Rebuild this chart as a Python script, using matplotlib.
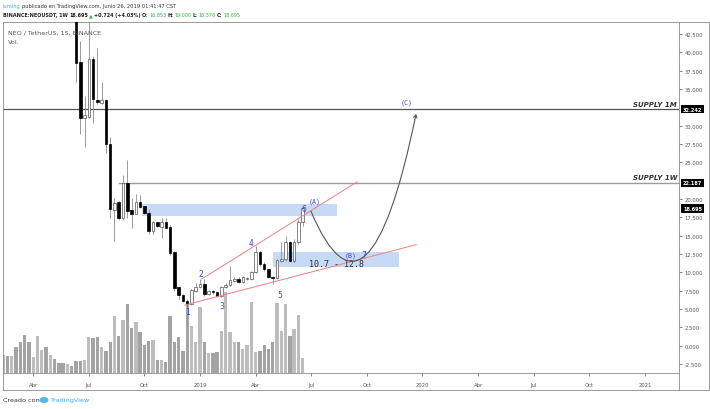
import matplotlib.pyplot as plt
import matplotlib.patches as mpatches
from matplotlib.path import Path
from matplotlib.lines import Line2D
import matplotlib.transforms as mtransforms
import numpy as np
import pandas as pd

# weekly NEO/USDT candles, Binance
start = pd.Timestamp('2018-02-12')
weeks = pd.date_range(start, periods=71, freq='W-MON')
opens = [104, 121, 112, 112, 95, 72, 63, 53, 58, 65, 80, 76, 80, 65, 58, 50, 52, 50, 38.6, 31.1,
         31.2, 39.0, 33.5, 33.1, 33.5, 27.45, 18.45, 19.5, 17.45, 22.1, 18.4, 17.9, 19.5, 19.0, 18.1,
         15.6, 16.8, 16.2, 16.8, 16.1, 12.7, 7.95, 6.9, 6.1, 5.7, 7.5, 7.95, 8.4, 7.05, 7.37, 7.3,
         6.82, 7.95, 8.27, 8.86, 9.1, 8.7, 9.1, 9.1, 10.0, 12.73, 11.14, 10.46, 9.32, 9.18, 11.59,
         11.82, 14.1, 11.59, 14.1, 16.853]
highs = [130, 140, 120, 135, 100, 78, 65, 60, 70, 85, 90, 85, 82, 68, 60, 55, 60, 52, 41.5, 34.0,
         44.5, 39.5, 40.6, 35.9, 33.6, 28.4, 20.2, 19.7, 23.3, 25.3, 20.2, 20.7, 20.6, 19.1, 18.6,
         17.0, 16.9, 17.45, 17.45, 16.5, 12.9, 8.2, 7.0, 6.3, 7.7, 8.6, 9.1, 9.1, 7.6, 7.6, 7.4,
         8.1, 8.5, 10.8, 9.4, 9.3, 9.55, 9.4, 10.23, 13.64, 12.96, 11.36, 10.46, 9.55, 11.82, 14.1,
         15.0, 14.32, 14.55, 17.3, 19.0]
lows = [100, 110, 100, 92, 68, 58, 50, 47, 53, 63, 72, 70, 63, 56, 48, 46, 48, 35.9, 28.8, 27.1,
        31.0, 30.4, 32.9, 32.9, 26.3, 17.45, 14.3, 17.2, 17.2, 17.45, 16.1, 17.9, 18.8, 18.0, 15.2,
        15.2, 16.2, 14.7, 16.0, 12.3, 7.5, 6.4, 5.9, 5.3, 5.6, 7.3, 7.8, 6.8, 6.9, 7.1, 6.6,
        6.6, 7.9, 8.2, 8.7, 8.5, 8.6, 8.9, 9.0, 9.9, 10.9, 10.2, 9.2, 8.4, 9.1, 11.4, 11.6, 11.4,
        11.36, 13.9, 16.376]
closes = [121, 112, 112, 95, 72, 63, 53, 58, 65, 80, 76, 80, 65, 58, 50, 52, 50, 38.6, 31.1, 31.4,
          39.0, 33.6, 33.2, 33.4, 27.45, 18.6, 19.4, 17.45, 22.1, 18.4, 17.9, 19.5, 18.9, 18.1, 15.6,
          16.8, 16.3, 16.8, 16.1, 12.6, 7.8, 6.9, 6.1, 5.7, 7.5, 7.95, 8.4, 7.05, 7.37, 7.3, 6.82,
          7.95, 8.27, 8.86, 9.1, 8.7, 9.28, 9.18, 10.0, 12.73, 11.14, 10.46, 9.32, 9.18, 11.59, 11.82,
          14.1, 11.59, 14.1, 16.8, 18.695]
volumes = [18, 17.3, 17.3, 26.3, 30.7, 38, 31.3, 15.7, 36.7, 23, 26.3, 18, 14, 10, 10, 9, 6.7,
           12.3, 12, 13.3, 36.3, 34.7, 35.7, 25.7, 22.3, 30.7, 57.3, 37.3, 53, 69, 45, 50.7, 41.3,
           28, 32.3, 33, 13, 13, 10.7, 57.3, 30.7, 35.7, 22.3, 68, 47.3, 31.3, 65.7, 30.7, 19.7,
           19.7, 20.7, 42.3, 80.7, 41.3, 31.3, 31.3, 24, 28.3, 71.3, 20.7, 22.3, 28, 24, 31.3, 69.7,
           42.3, 69, 37.3, 44, 58, 14.7]

tick_dates = ['2018-04-02', '2018-07-02', '2018-10-01', '2018-12-31', '2019-04-01', '2019-07-01',
              '2019-09-30', '2019-12-30', '2020-03-30', '2020-06-29', '2020-09-28', '2020-12-28']
tick_labels = ['Abr', 'Jul', 'Oct', '2019', 'Abr', 'Jul', 'Oct', '2020', 'Abr', 'Jul', 'Oct', '2021']

supply_1m = 32.242
supply_1w = 22.187
last_price = 18.695
zone_a = (17.7, 19.3)
zone_b = (10.7, 12.8)

W, H = 710, 410
fig = plt.figure(figsize=(7.1, 4.1), dpi=100)
plt.rcParams['font.family'] = ['DejaVu Sans']
L, R, T, B = 3, 679, 23, 374
rect = [L / W, (H - B) / H, (R - L) / W, (B - T) / H]

axv = fig.add_axes(rect)
ax = fig.add_axes(rect, sharex=axv)
ax.patch.set_alpha(0)
axv.set_zorder(0)
ax.set_zorder(1)

x = np.arange(len(weeks))
o = np.array(opens); c = np.array(closes)
up = c >= o

# volume
axv.bar(x, volumes, width=0.78, color=np.where(up, '#bdbdbd', '#a3a3a3'), linewidth=0)
axv.set_ylim(0, B - T)
axv.axis('off')

# candles
ax.vlines(x, lows, highs, color='#8a8a8a', lw=0.6, zorder=2)
ax.bar(x, np.abs(c - o) + 0.05, bottom=np.minimum(o, c), width=0.6,
       color=np.where(up, 'white', 'black'), edgecolor=np.where(up, '#555555', 'black'),
       linewidth=0.5, zorder=3)

ax.set_xlim(-0.06, 157.96)
ax.set_ylim(-3.73, 44.14)

# horizontal levels
ax.axhline(supply_1m, color='#555555', lw=0.9, zorder=1)
ax.plot([27, 158], [supply_1w, supply_1w], color='#9a9a9a', lw=1.0, zorder=1)
ax.text(157.5, supply_1m + 0.35, 'SUPPLY 1M', ha='right', va='bottom', fontsize=5,
        fontweight='bold', style='italic', color='#333333')
ax.text(157.5, supply_1w + 0.35, 'SUPPLY 1W', ha='right', va='bottom', fontsize=5,
        fontweight='bold', style='italic', color='#333333')

# zones
ax.add_patch(mpatches.Rectangle((32.4, zone_a[0]), 77.9 - 32.4, zone_a[1] - zone_a[0],
                                facecolor='#c6d9f5', edgecolor='none', zorder=1))
ax.add_patch(mpatches.Rectangle((63.1, zone_b[0]), 92.6 - 63.1, zone_b[1] - zone_b[0],
                                facecolor='#c6d9f5', edgecolor='none', zorder=1))
ax.text(77.8, 11.27, '10.7 - 12.8', ha='center', va='center', fontsize=6,
        family='DejaVu Sans Mono', color='#333333', zorder=5)

# wedge lines
ax.plot([46.4, 82.76], [9.09, 22.36], color='#f08080', lw=0.7, zorder=4)
ax.plot([42.5, 96.5], [5.54, 13.77], color='#f08080', lw=0.7, zorder=4)

# projected path
curve = Path([(71.9, 18.36), (85.3, -0.2), (96.5, 31.6)],
             [Path.MOVETO, Path.CURVE3, Path.CURVE3])
ax.add_patch(mpatches.FancyArrowPatch(path=curve, arrowstyle='->,head_length=2,head_width=1.2',
                                      color='#555555', lw=0.8, zorder=5))

blue = '#3f3ff0'
for s, xi, yi in [('1', 43.0, 4.6), ('2', 46.2, 9.9), ('3', 51.0, 5.5), ('4', 57.9, 14.1),
                  ('5', 64.7, 7.0), ('6', 70.3, 18.7), ('7', 84.3, 12.4)]:
    ax.text(xi, yi, s, ha='center', va='center', fontsize=5.5, color=blue, zorder=6)
for s, xi, yi in [('(A)', 72.9, 19.75), ('(B)', 81.3, 12.4), ('(C)', 94.4, 33.2)]:
    ax.text(xi, yi, s, ha='center', va='center', fontsize=4.8, family='DejaVu Sans Mono',
            color=blue, zorder=6)

# axes styling
ticks = [(pd.Timestamp(d) - start).days / 7 for d in tick_dates]
ax.set_xticks(ticks)
ax.set_xticklabels(tick_labels)
yt = [v for v in np.arange(-2.5, 43, 2.5) if v not in (22.5, 32.5)]
ax.set_yticks(yt)
ax.set_yticklabels(['%.3f' % v for v in yt])
ax.yaxis.tick_right()
ax.tick_params(axis='both', labelsize=3.8, colors='#555555', length=2.5, width=0.5, pad=1.5)
ax.tick_params(axis='x', pad=4)
for sp in ax.spines.values():
    sp.set_color('#8a8a8a')
    sp.set_linewidth(0.6)

# price tags
tr = mtransforms.blended_transform_factory(ax.transAxes, ax.transData)
for p in (supply_1m, supply_1w, last_price):
    ax.text(1.006, p, '%.3f' % p, transform=tr, ha='left', va='center', fontsize=3.6,
            fontweight='bold', color='white',
            bbox=dict(boxstyle='square,pad=0.35', facecolor='black', edgecolor='none'), zorder=7)

# outer frame
def fline(x0, y0, x1, y1):
    fig.add_artist(Line2D([x0 / W, x1 / W], [1 - y0 / H, 1 - y1 / H], color='#8a8a8a', lw=0.6))

fline(R, T, 709, T)
fline(709, T, 709, 391)
fline(L, 391, 709, 391)
fline(L, B, L, 391)
fline(R, B, R, 391)

# header, laid out piece by piece
renderer = fig.canvas.get_renderer()

def text_row(x0, ypx, pieces, size):
    xp = x0
    for s, col, bold in pieces:
        t = fig.text(xp / W, 1 - ypx / H, s, fontsize=size, color=col, va='center',
                     fontweight='bold' if bold else 'normal')
        xp = t.get_window_extent(renderer).x1 + 1.2

green = '#3cb043'
dark = '#222222'
text_row(3, 6.5, [('luming', '#3fa9f5', False),
                  ('publicado en TradingView.com, Junio 26, 2019 01:41:47 CST', '#333333', False)], 3.7)
text_row(3, 15.5, [('BINANCE:NEOUSDT, 1W', dark, True), ('18.695', dark, True), ('▲', green, False),
                   ('+0.724 (+4.03%)', dark, True), ('O:', dark, True), ('16.853', green, False),
                   ('H:', dark, True), ('19.000', green, False), ('L:', dark, True),
                   ('16.376', green, False), ('C:', dark, True), ('18.695', green, False)], 3.5)

fig.text(8 / W, 1 - 33 / H, 'NEO / TetherUS, 1S, BINANCE', fontsize=4.6, color='#555555', va='center')
fig.text(8 / W, 1 - 42 / H, 'Vol.', fontsize=4.6, color='#555555', va='center')

fig.text(3 / W, 1 - 401 / H, 'Creado con', fontsize=4.6, color='#333333', va='center')
fig.text(50 / W, 1 - 401 / H, 'TradingView', fontsize=4.6, color='#3fa9f5', va='center')
fig.patches.append(mpatches.Ellipse((44 / W, 1 - 401 / H), 9 / W, 6 / H, transform=fig.transFigure,
                                    facecolor='#5ab4e8', edgecolor='none'))

fig.savefig('out.png', dpi=100)
